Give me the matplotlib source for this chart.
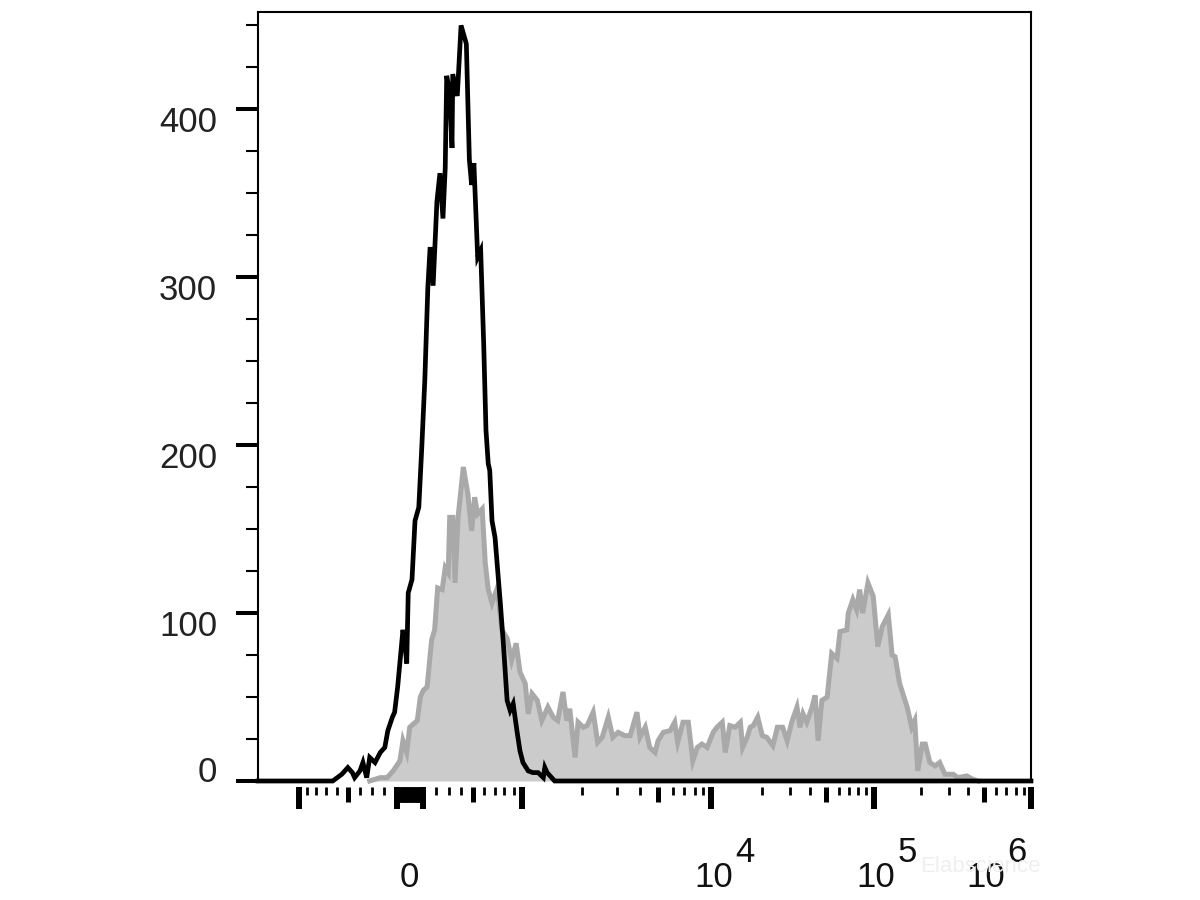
import matplotlib
matplotlib.use("Agg")
import matplotlib.pyplot as plt
import numpy as np
from matplotlib.transforms import ScaledTranslation

LN10 = np.log(10.0)

# histogram data, x in display channels (0..1024 across the axis), y in counts
black_channel = [0, 99, 105, 111, 119, 125, 128, 135, 139, 144, 148, 155, 162, 168, 172,
                 178, 181, 185, 192, 195, 197, 199, 204, 208, 213, 217, 221, 225, 228,
                 232, 237, 241, 245, 248, 250, 254, 257, 258, 264, 269, 276, 280, 283,
                 286, 291, 295, 299, 302, 305, 307, 310, 314, 321, 325, 330, 334, 338,
                 343, 347, 351, 358, 364, 371, 378, 380, 383, 389, 393, 1024]
black_count = [0, 0, 2, 4, 8, 5, 2, 6, 11, 2, 14, 11, 17, 20, 30,
               38, 41, 56, 90, 80, 70, 112, 120, 155, 163, 199, 239, 294, 318,
               295, 345, 362, 335, 365, 420, 410, 377, 421, 408, 450, 439, 370, 355,
               368, 312, 316, 260, 209, 189, 185, 155, 145, 106, 82, 48, 42, 46,
               30, 18, 11, 6, 5, 5, 2, 8, 5, 2, 0, 0]

grey_channel = [148, 155, 162, 171, 179, 188, 192, 197, 201, 211, 215, 219, 224, 230,
                234, 238, 244, 248, 252, 254, 258, 261, 265, 272, 278, 283, 287, 291,
                297, 301, 305, 310, 317, 323, 330, 336, 342, 347, 354, 358, 363, 370,
                376, 384, 391, 397, 404, 409, 413, 420, 424, 431, 436, 444, 450, 456,
                464, 470, 477, 486, 493, 502, 506, 513, 519, 526, 530, 537, 546, 552,
                556, 563, 570, 576, 582, 588, 595, 603, 608, 615, 619, 625, 632, 639,
                642, 648, 652, 656, 662, 668, 674, 682, 688, 695, 701, 707, 714, 718,
                722, 727, 734, 738, 742, 747, 754, 760, 767, 771, 780, 782, 788, 793,
                797, 801, 808, 815, 821, 827, 835, 840, 844, 850, 860, 866, 870, 874,
                880, 884, 890, 897, 903, 910, 921, 927, 939, 947, 954]
grey_count = [0, 1, 2, 2, 6, 12, 24, 17, 32, 36, 50, 54, 56, 84,
              90, 115, 114, 127, 124, 157, 157, 118, 157, 187, 171, 149, 169, 159,
              162, 130, 114, 106, 115, 90, 85, 72, 82, 65, 58, 40, 52, 48,
              36, 44, 38, 36, 53, 36, 43, 14, 35, 32, 33, 41, 23, 26,
              38, 26, 29, 27, 27, 41, 26, 32, 20, 17, 24, 29, 30, 35,
              23, 35, 35, 12, 20, 22, 20, 29, 32, 35, 17, 33, 32, 35,
              20, 26, 32, 33, 38, 27, 26, 21, 32, 32, 24, 35, 44, 32,
              40, 35, 44, 51, 24, 48, 50, 76, 73, 89, 90, 100, 108, 102,
              114, 100, 118, 110, 80, 92, 99, 75, 74, 58, 44, 32, 36, 6,
              22, 22, 11, 9, 11, 4, 4, 2, 3, 1, 0]

y_major = [0, 100, 200, 300, 400]
y_minor = [25, 50, 75, 125, 150, 175, 225, 250, 275, 325, 350, 375, 425, 450]

x_long = [-1000, -100, 100, 1000, 1e4, 1e5, 1e6]
x_medium = [-500, 500, 5e3, 5e4, 5e5] + [k * 10 for k in range(-9, 10)]
x_short = ([s * k * 100 for s in (-1, 1) for k in (2, 3, 4, 6, 7, 8, 9)]
           + [k * 10 ** e for e in (3, 4, 5) for k in (2, 3, 4, 6, 7, 8, 9)])

# logicle scale parameters (fitted to the tick marks of the picture)
LOGICLE_T, LOGICLE_W, LOGICLE_M, LOGICLE_A = 1e6, 0.93, 4.9, 1.44
CHANNEL_OFFSET, CHANNEL_GAIN = -288.76, 1312.36


def logicle_coeffs(T, W, M, A):
    w = W / (M + A)
    x2 = A / (M + A)
    x1 = x2 + w
    x0 = x2 + 2 * w
    b = (M + A) * LN10
    lo, hi = 1e-12, b
    for _ in range(80):
        mid = 0.5 * (lo + hi)
        if 2 * (np.log(mid) - np.log(b)) + w * (b + mid) > 0:
            hi = mid
        else:
            lo = mid
    d = 0.5 * (lo + hi)
    c_a = np.exp(x0 * (b + d))
    mf_a = np.exp(b * x1) - c_a * np.exp(-d * x1)
    a = T / ((np.exp(b) - mf_a) - c_a * np.exp(-d))
    return a, b, c_a * a, d, -mf_a * a, x1


def logicle_S(y, co):
    a, b, c, d, f, x1 = co
    yy = np.where(y >= x1, y, 2 * x1 - y)
    s = a * np.exp(b * yy) - c * np.exp(-d * yy) + f
    return np.where(y >= x1, s, -s)


def logicle_y(v, co, n_iter=60):
    v = np.asarray(v, float)
    lo = np.full(v.shape, -1.0)
    hi = np.full(v.shape, 1.5)
    for _ in range(n_iter):
        mid = 0.5 * (lo + hi)
        above = logicle_S(mid, co) > v
        hi = np.where(above, mid, hi)
        lo = np.where(above, lo, mid)
    return 0.5 * (lo + hi)


CO = logicle_coeffs(LOGICLE_T, LOGICLE_W, LOGICLE_M, LOGICLE_A)


def to_channel(v):
    return CHANNEL_OFFSET + CHANNEL_GAIN * logicle_y(v, CO)


plt.rcParams["font.family"] = ["Liberation Sans", "DejaVu Sans"]

fig = plt.figure(figsize=(12, 9), dpi=100)
ax = fig.add_axes([258 / 1200, 1 - 781 / 900, 773 / 1200, 769 / 900])

ax.fill_between(grey_channel, 0, grey_count, color="#cbcbcb", lw=0, zorder=1)
ax.plot(grey_channel, grey_count, color="#a9a9a9", lw=3.6, solid_joinstyle="miter",
        zorder=2, clip_on=False)
ax.plot(black_channel, black_count, color="#000000", lw=3.4, solid_joinstyle="miter",
        zorder=3, clip_on=False)

ax.set_xlim(0, 1024)
ax.set_ylim(0, 458)

for side in ("top", "right", "left"):
    ax.spines[side].set_linewidth(1.5)
ax.spines["bottom"].set_position(("outward", 4))
ax.spines["bottom"].set_visible(False)

ax.set_yticks(y_major)
ax.set_yticks(y_minor, minor=True)
ax.tick_params(axis="y", which="major", direction="out", length=15.5, width=2.9, pad=14,
               labelsize=25, labelcolor="#222222")
ax.tick_params(axis="y", which="minor", direction="out", length=8.6, width=1.5)
for lab in ax.get_yticklabels():
    dy = 9 / 72 if lab.get_text() == "0" else -7 / 72
    lab.set_transform(lab.get_transform() + ScaledTranslation(0, dy, fig.dpi_scale_trans))

major_vals = x_long + x_medium
ax.set_xticks(to_channel(major_vals))
ax.set_xticks(to_channel(x_short), minor=True)
ax.tick_params(axis="x", which="both", direction="out", labelbottom=False)
ax.tick_params(axis="x", which="minor", length=5.8, width=2.0)
for i, tick in enumerate(ax.xaxis.get_major_ticks()):
    if i < len(x_long):
        tick.tick1line.set_markersize(16)
        tick.tick1line.set_markeredgewidth(4.3)
    else:
        tick.tick1line.set_markersize(11)
        tick.tick1line.set_markeredgewidth(3.6)

# x labels: "0" and 10 with a full-size raised exponent
lab_kw = dict(xycoords=("data", "axes fraction"), textcoords="offset pixels",
              fontsize=25, color="#111111", va="baseline")
ax.annotate("0", (to_channel(0), 0), xytext=(-1, -106), ha="center", **lab_kw)
for val, exp, dx in [(1e4, "4", 2), (1e5, "5", 2), (1e6, "6", -45)]:
    c = to_channel(val)
    ax.annotate("10", (c, 0), xytext=(dx, -106), ha="center", **lab_kw)
    ax.annotate(exp, (c, 0), xytext=(dx + 22, -81), ha="left", **lab_kw)

# faint watermark
fig.text(920 / 1200, 1 - 872 / 900, "Elabscience", fontsize=16, color="#efefef", zorder=0)

fig.savefig("out.png", dpi=100)
